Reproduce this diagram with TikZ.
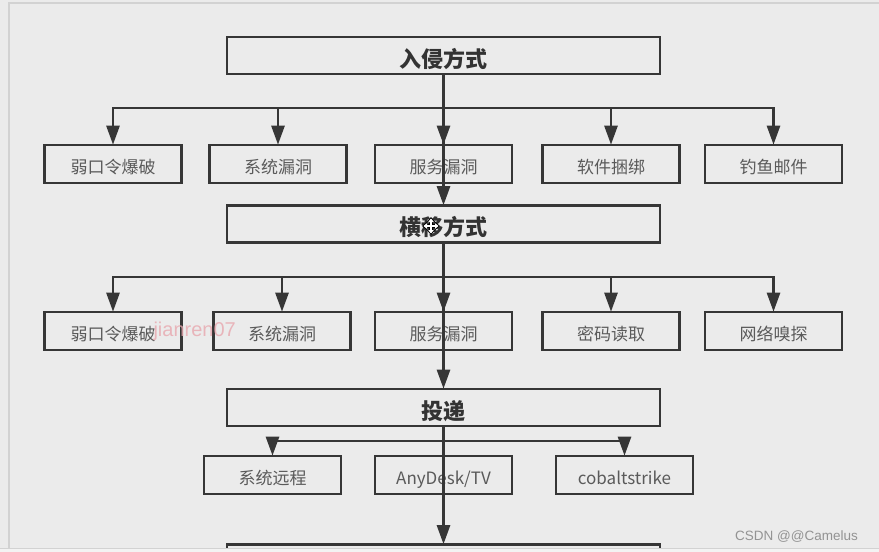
\documentclass[tikz,border=0pt]{standalone}
\usepackage{fontspec}
\setmainfont{Noto Sans CJK SC}
\newfontfamily\latinfont{Liberation Sans}
\usetikzlibrary{arrows.meta}
\definecolor{bg}{HTML}{EBEBEB}
\definecolor{edge}{HTML}{D2D2D2}
\definecolor{ln}{HTML}{363636}
\definecolor{tx}{HTML}{5A5A5A}
\definecolor{ttx}{HTML}{333333}
\definecolor{pinkwm}{HTML}{E8A7AE}
\tikzset{
  box/.style={draw=ln, line width=2.6pt, minimum height=38pt, inner sep=0pt,
    text=tx, font=\fontsize{17}{17}\selectfont, text height=19pt, text depth=0pt},
  smallbox/.style={box, minimum width=137pt},
  titlebox/.style={box, minimum width=433pt, minimum height=37pt, text=ttx,
    font=\fontsize{22}{22}\selectfont\bfseries, text height=23pt, text depth=0pt},
  conn/.style={draw=ln, line width=2.6pt},
  arr/.style={conn, -{Triangle[length=19pt,width=13pt]}, shorten >=-1pt},
}
\begin{document}
\begin{tikzpicture}[x=1pt,y=-1pt]
\useasboundingbox (0,0) rectangle (879,552);
\fill[bg] (0,0) rectangle (879,552);
\fill[bg!60!white] (0,548) rectangle (879,552);
\draw[edge, line width=1.5pt] (9,548) -- (9,3) -- (879,3);
\draw[edge, line width=1pt] (0,548) -- (879,548);
\begin{scope}
\clip (0,0) rectangle (879,547);
% title boxes
\node[titlebox] (t1) at (443.5,55.5) {入侵方式};
\node[titlebox] (t2) at (443.5,224) {横移方式};
\node[titlebox] (t3) at (443.5,407.5) {投递};
\node[titlebox] (t4) at (443.5,563) {};
% row 1
\node[smallbox] (a1) at (113,164) {弱口令爆破};
\node[smallbox] (a2) at (278,164) {系统漏洞};
\node[smallbox] (a3) at (443.5,164) {服务漏洞};
\node[smallbox] (a4) at (611,164) {软件捆绑};
\node[smallbox] (a5) at (773.5,164) {钓鱼邮件};
% row 2
\node[smallbox] (b1) at (113,331) {弱口令爆破};
\node[smallbox] (b2) at (282,331) {系统漏洞};
\node[smallbox] (b3) at (443.5,331) {服务漏洞};
\node[smallbox] (b4) at (611,331) {密码读取};
\node[smallbox] (b5) at (773.5,331) {网络嗅探};
% row 3
\node[smallbox] (c1) at (272.5,475) {系统远程};
\node[smallbox] (c2) at (443.5,475) {AnyDesk/TV};
\node[smallbox] (c3) at (624.5,475) {cobaltstrike};
% buses
\coordinate (bus1) at (443.5,108);
\coordinate (bus2) at (443.5,277);
\coordinate (bus3) at (443.5,441);
% level 1
\draw[arr] (t1.south) -- (a3.north);
\draw[arr] (t1.south) -- (t2.north);
\draw[arr] (bus1) -| (a1.north);
\draw[arr] (bus1) -| (a2.north);
\draw[arr] (bus1) -| (a4.north);
\draw[arr] (bus1) -| (a5.north);
% level 2
\draw[arr] (t2.south) -- (b3.north);
\draw[arr] (t2.south) -- (t3.north);
\draw[arr] (bus2) -| (b1.north);
\draw[arr] (bus2) -| (b2.north);
\draw[arr] (bus2) -| (b4.north);
\draw[arr] (bus2) -| (b5.north);
% level 3
\draw[arr] (t3.south) -- (t4.north);
\draw[arr] (bus3) -| (c1.north);
\draw[arr] (bus3) -| (c3.north);
\end{scope}
% cursor over title 2
\begin{scope}[shift={(431,226)}]
\draw[black, line width=3.2pt, {Triangle[length=5pt,width=8pt]}-{Triangle[length=5pt,width=8pt]}] (-9,0) -- (9,0);
\draw[black, line width=3.2pt, {Triangle[length=5pt,width=8pt]}-{Triangle[length=5pt,width=8pt]}] (0,-9) -- (0,9);
\draw[white, line width=1.4pt, {Triangle[length=3.5pt,width=5.5pt]}-{Triangle[length=3.5pt,width=5.5pt]}] (-7.5,0) -- (7.5,0);
\draw[white, line width=1.4pt, {Triangle[length=3.5pt,width=5.5pt]}-{Triangle[length=3.5pt,width=5.5pt]}] (0,-7.5) -- (0,7.5);
\end{scope}
% watermarks
\node[anchor=east, text=pinkwm, opacity=0.8, font=\latinfont\fontsize{20}{20}\selectfont, inner sep=0pt] (wm1) at (236,331) {jianren07};
\node[anchor=east, text=gray!85, font=\latinfont\fontsize{13.5}{13.5}\selectfont, inner sep=0pt] (wm2) at (858,537) {CSDN @@Camelus};
\end{tikzpicture}
\end{document}
